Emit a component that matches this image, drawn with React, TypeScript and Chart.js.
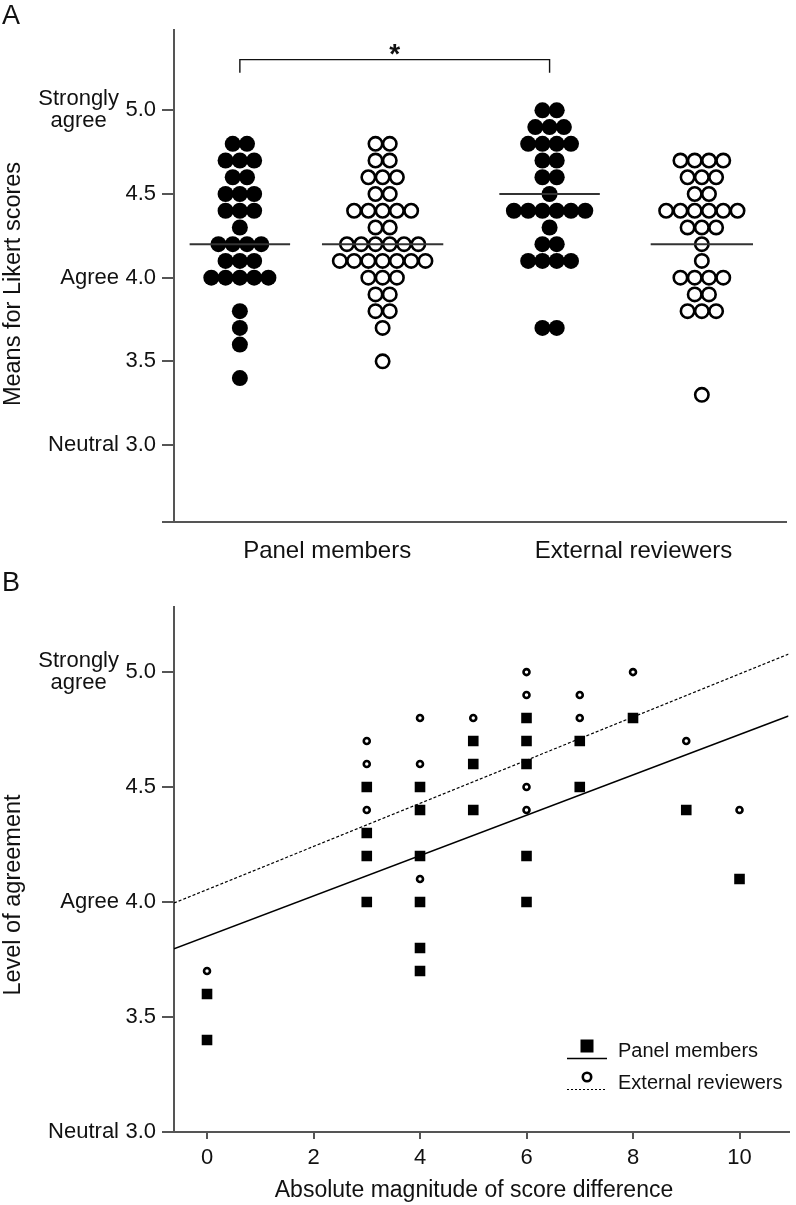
import React, { useEffect, useRef } from "react";
import { Chart, registerables } from "chart.js";

Chart.register(...registerables);

const FONT = "'Liberation Sans', Arial, Helvetica, sans-serif";
const INK = "#111111";
const AXIS = "#555555";

// ---------------- Panel A data ----------------
const groupLabels = ["Panel members", "External reviewers"];
const panelFilled = [4.8, 4.8, 4.7, 4.7, 4.7, 4.6, 4.6, 4.5, 4.5, 4.5, 4.4, 4.4, 4.4, 4.3, 4.2, 4.2, 4.2, 4.2, 4.1, 4.1, 4.1, 4.0, 4.0, 4.0, 4.0, 4.0, 3.8, 3.7, 3.6, 3.4];
const panelOpen = [4.8, 4.8, 4.7, 4.7, 4.6, 4.6, 4.6, 4.5, 4.5, 4.4, 4.4, 4.4, 4.4, 4.4, 4.3, 4.3, 4.2, 4.2, 4.2, 4.2, 4.2, 4.2, 4.1, 4.1, 4.1, 4.1, 4.1, 4.1, 4.1, 4.0, 4.0, 4.0, 3.9, 3.9, 3.8, 3.8, 3.7, 3.5];
const externalFilled = [5.0, 5.0, 4.9, 4.9, 4.9, 4.8, 4.8, 4.8, 4.8, 4.7, 4.7, 4.6, 4.6, 4.5, 4.4, 4.4, 4.4, 4.4, 4.4, 4.4, 4.3, 4.2, 4.2, 4.1, 4.1, 4.1, 4.1, 3.7, 3.7];
const externalOpen = [4.7, 4.7, 4.7, 4.7, 4.6, 4.6, 4.6, 4.5, 4.5, 4.4, 4.4, 4.4, 4.4, 4.4, 4.4, 4.3, 4.3, 4.3, 4.2, 4.1, 4.0, 4.0, 4.0, 4.0, 3.9, 3.9, 3.8, 3.8, 3.8, 3.3];
const columnLevels = [4.2, 4.2, 4.5, 4.2];
const likertTicks = [3.0, 3.5, 4.0, 4.5, 5.0];
const likertWords: [number, string[]][] = [
  [5.0, ["Strongly", "agree"]],
  [4.0, ["Agree"]],
  [3.0, ["Neutral"]],
];

// ---------------- Panel B data ----------------
const diffTicks = [0, 2, 4, 6, 8, 10];
const panelDiff = [0, 0, 3, 3, 3, 3, 4, 4, 4, 4, 4, 4, 5, 5, 5, 6, 6, 6, 6, 6, 7, 7, 8, 9, 10];
const panelAgree = [3.6, 3.4, 4.5, 4.3, 4.2, 4.0, 4.5, 4.4, 4.2, 4.0, 3.8, 3.7, 4.7, 4.6, 4.4, 4.8, 4.7, 4.6, 4.2, 4.0, 4.7, 4.5, 4.8, 4.4, 4.1];
const externalDiff = [0, 3, 3, 3, 4, 4, 4, 5, 6, 6, 6, 6, 7, 7, 8, 9, 10];
const externalAgree = [3.7, 4.7, 4.6, 4.4, 4.8, 4.6, 4.1, 4.8, 5.0, 4.9, 4.5, 4.4, 4.9, 4.8, 5.0, 4.7, 4.4];
const panelFit = { intercept: 3.851, slope: 0.0877 };
const externalFit = { intercept: 4.054, slope: 0.0938 };
const legendLabels = ["Panel members", "External reviewers"];

// ---------------- layout constants ----------------
const W = 796;
const HA = 570;
const HB = 635;
const AX_LEFT = 174;
const A_X = { min: 0.5, max: 2.5 };
const A_Y = { min: 2.54, max: 5.48 };
const COL_POS = [0.715, 1.181, 1.726, 2.223];
const COL_HALF = [0.164, 0.198, 0.164, 0.167];
const DOT_STEP = 0.0466;
const BRACKET_LEVEL = 5.303;
const BRACKET_TIP = 5.225;
const B_X = { min: -0.62, max: 10.92 };
const B_Y = { min: 3.0, max: 5.283 };

function swarm(values: number[], center: number) {
  const counts: Record<string, number> = {};
  values.forEach((v) => {
    const k = v.toFixed(1);
    counts[k] = (counts[k] || 0) + 1;
  });
  const seen: Record<string, number> = {};
  return values.map((v) => {
    const k = v.toFixed(1);
    const i = (seen[k] = (seen[k] ?? -1) + 1);
    const n = counts[k];
    return { x: center + (i - (n - 1) / 2) * DOT_STEP, y: v };
  });
}

function drawLikertWords(ctx: CanvasRenderingContext2D, ys: any) {
  ctx.font = `22px ${FONT}`;
  ctx.fillStyle = INK;
  ctx.textBaseline = "middle";
  const right = 119;
  likertWords.forEach(([v, words]) => {
    const y = ys.getPixelForValue(v);
    if (words.length === 1) {
      ctx.textAlign = "right";
      ctx.fillText(words[0], right, y);
    } else {
      const w0 = ctx.measureText(words[0]).width;
      ctx.textAlign = "center";
      ctx.fillText(words[0], right - w0 / 2, y - 11.5);
      ctx.fillText(words[1], right - w0 / 2, y + 11);
    }
  });
}

function drawYTitle(ctx: CanvasRenderingContext2D, text: string, cx: number, cy: number) {
  ctx.save();
  ctx.translate(cx, cy);
  ctx.rotate(-Math.PI / 2);
  ctx.font = `23.5px ${FONT}`;
  ctx.fillStyle = INK;
  ctx.textAlign = "center";
  ctx.textBaseline = "middle";
  ctx.fillText(text, 0, 0);
  ctx.restore();
}

const panelAPlugin = {
  id: "panelA",
  afterDraw(chart: any) {
    const { ctx } = chart;
    const xs = chart.scales.x;
    const ys = chart.scales.y;
    ctx.save();
    ctx.fillStyle = INK;
    ctx.font = `27px ${FONT}`;
    ctx.textAlign = "left";
    ctx.textBaseline = "alphabetic";
    ctx.fillText("A", 2, 24);
    drawYTitle(ctx, "Means for Likert scores", 14, 284);
    drawLikertWords(ctx, ys);
    // category labels
    ctx.font = `24px ${FONT}`;
    ctx.textAlign = "center";
    ctx.textBaseline = "alphabetic";
    groupLabels.forEach((g, i) => {
      ctx.fillText(g, xs.getPixelForValue(i + 1), 558);
    });
    // significance bracket
    const x1 = xs.getPixelForValue(COL_POS[0]);
    const x2 = xs.getPixelForValue(COL_POS[2]);
    const yb = ys.getPixelForValue(BRACKET_LEVEL);
    const yt = ys.getPixelForValue(BRACKET_TIP);
    ctx.strokeStyle = INK;
    ctx.lineWidth = 1.4;
    ctx.beginPath();
    ctx.moveTo(x1, yt);
    ctx.lineTo(x1, yb);
    ctx.lineTo(x2, yb);
    ctx.lineTo(x2, yt);
    ctx.stroke();
    ctx.font = `bold 28px ${FONT}`;
    ctx.textAlign = "center";
    ctx.fillText("*", (x1 + x2) / 2, yb + 3);
    ctx.restore();
  },
};

const panelBPlugin = {
  id: "panelB",
  afterDraw(chart: any) {
    const { ctx } = chart;
    const ys = chart.scales.y;
    ctx.save();
    ctx.fillStyle = INK;
    ctx.font = `27px ${FONT}`;
    ctx.textAlign = "left";
    ctx.textBaseline = "alphabetic";
    ctx.fillText("B", 2, 21);
    drawYTitle(ctx, "Level of agreement", 14, 325);
    drawLikertWords(ctx, ys);
    // x title
    ctx.font = `23px ${FONT}`;
    ctx.textAlign = "center";
    ctx.textBaseline = "alphabetic";
    ctx.fillStyle = INK;
    ctx.fillText("Absolute magnitude of score difference", 474, 627);
    // legend
    ctx.fillStyle = "#000";
    ctx.fillRect(580.5, 469.5, 13, 13);
    ctx.strokeStyle = "#000";
    ctx.lineWidth = 1.5;
    ctx.beginPath();
    ctx.moveTo(567, 488.5);
    ctx.lineTo(607, 488.5);
    ctx.stroke();
    ctx.beginPath();
    ctx.arc(587, 507, 4.2, 0, Math.PI * 2);
    ctx.fillStyle = "#fff";
    ctx.fill();
    ctx.lineWidth = 2.6;
    ctx.stroke();
    ctx.lineWidth = 1.2;
    ctx.setLineDash([2, 2]);
    ctx.beginPath();
    ctx.moveTo(567, 519.5);
    ctx.lineTo(607, 519.5);
    ctx.stroke();
    ctx.setLineDash([]);
    ctx.fillStyle = INK;
    ctx.font = `20px ${FONT}`;
    ctx.textAlign = "left";
    ctx.fillText(legendLabels[0], 618, 487);
    ctx.fillText(legendLabels[1], 618, 519);
    ctx.restore();
  },
};

function yScaleCommon(min: number, max: number, ticks: number[]) {
  return {
    type: "linear",
    min,
    max,
    afterBuildTicks: (s: any) => {
      s.ticks = ticks.map((v) => ({ value: v }));
    },
    ticks: {
      callback: (v: any) => (likertTicks.includes(v) ? Number(v).toFixed(1) : ""),
      font: { family: FONT, size: 22 },
      color: INK,
      padding: 6,
    },
    grid: { drawOnChartArea: false, drawTicks: true, tickLength: 12, color: AXIS, lineWidth: 2 },
    border: { display: true, color: AXIS, width: 2 },
    afterFit: (s: any) => {
      s.width = AX_LEFT;
    },
  };
}

export default function App() {
  const refA = useRef<HTMLCanvasElement | null>(null);
  const refB = useRef<HTMLCanvasElement | null>(null);

  useEffect(() => {
    document.body.style.margin = "0";
    document.body.style.background = "#fff";

    const lineDs = columnLevels.map((lv, i) => ({
      data: [
        { x: COL_POS[i] - COL_HALF[i], y: lv },
        { x: COL_POS[i] + COL_HALF[i], y: lv },
      ],
      showLine: true,
      borderColor: "#333",
      borderWidth: 2,
      pointRadius: 0,
      order: 0,
    }));
    const filled = (vals: number[], pos: number) => ({
      data: swarm(vals, pos),
      pointStyle: "circle",
      pointRadius: 8,
      pointBackgroundColor: "#000",
      pointBorderColor: "#000",
      pointBorderWidth: 0,
      order: 1,
    });
    const open = (vals: number[], pos: number) => ({
      data: swarm(vals, pos),
      pointStyle: "circle",
      pointRadius: 6.7,
      pointBackgroundColor: "#fff",
      pointBorderColor: "#000",
      pointBorderWidth: 2.6,
      order: 1,
    });

    const chartA = new Chart(refA.current as HTMLCanvasElement, {
      type: "scatter",
      data: {
        datasets: [
          ...lineDs,
          filled(panelFilled, COL_POS[0]),
          open(panelOpen, COL_POS[1]),
          filled(externalFilled, COL_POS[2]),
          open(externalOpen, COL_POS[3]),
        ] as any,
      },
      options: {
        animation: false,
        responsive: false,
        events: [],
        layout: { padding: { top: 30, left: 0, right: 0, bottom: 0 } },
        plugins: { legend: { display: false }, tooltip: { enabled: false } },
        scales: {
          x: {
            type: "linear",
            min: A_X.min,
            max: A_X.max,
            grid: { display: false },
            border: { display: true, color: AXIS, width: 2 },
            ticks: { display: false },
            afterFit: (s: any) => {
              s.height = 48;
            },
          },
          y: yScaleCommon(A_Y.min, A_Y.max, [A_Y.min, ...likertTicks]),
        } as any,
      },
      plugins: [panelAPlugin],
    });

    const fitLine = (fit: { intercept: number; slope: number }) => [
      { x: B_X.min, y: fit.intercept + fit.slope * B_X.min },
      { x: B_X.max, y: fit.intercept + fit.slope * B_X.max },
    ];

    const chartB = new Chart(refB.current as HTMLCanvasElement, {
      type: "scatter",
      data: {
        datasets: [
          {
            data: panelDiff.map((x, i) => ({ x, y: panelAgree[i] })),
            pointStyle: "rect",
            pointRadius: 7.5,
            pointBackgroundColor: "#000",
            pointBorderColor: "#000",
            pointBorderWidth: 0,
            order: 0,
          },
          {
            data: externalDiff.map((x, i) => ({ x, y: externalAgree[i] })),
            pointStyle: "circle",
            pointRadius: 3,
            pointBackgroundColor: "#fff",
            pointBorderColor: "#000",
            pointBorderWidth: 2.6,
            order: 0,
          },
          {
            data: fitLine(panelFit),
            showLine: true,
            borderColor: "#000",
            borderWidth: 1.5,
            pointRadius: 0,
            order: 1,
          },
          {
            data: fitLine(externalFit),
            showLine: true,
            borderColor: "#000",
            borderWidth: 1.2,
            borderDash: [3, 2],
            pointRadius: 0,
            order: 1,
          },
        ] as any,
      },
      options: {
        animation: false,
        responsive: false,
        events: [],
        layout: { padding: { top: 37, left: 0, right: 0, bottom: 0 } },
        plugins: { legend: { display: false }, tooltip: { enabled: false } },
        scales: {
          x: {
            type: "linear",
            min: B_X.min,
            max: B_X.max,
            afterBuildTicks: (s: any) => {
              s.ticks = diffTicks.map((v) => ({ value: v }));
            },
            ticks: {
              font: { family: FONT, size: 22 },
              color: INK,
              padding: 6,
              maxRotation: 0,
              autoSkip: false,
            },
            grid: { drawOnChartArea: false, drawTicks: true, tickLength: 7, color: AXIS, lineWidth: 2 },
            border: { display: true, color: AXIS, width: 2 },
            afterFit: (s: any) => {
              s.height = 73;
            },
          },
          y: yScaleCommon(B_Y.min, B_Y.max, likertTicks),
        } as any,
      },
      plugins: [panelBPlugin],
    });

    return () => {
      chartA.destroy();
      chartB.destroy();
    };
  }, []);

  return (
    <div style={{ width: W, background: "#fff" }}>
      <canvas ref={refA} width={W} height={HA} style={{ display: "block" }} />
      <canvas ref={refB} width={W} height={HB} style={{ display: "block" }} />
    </div>
  );
}
